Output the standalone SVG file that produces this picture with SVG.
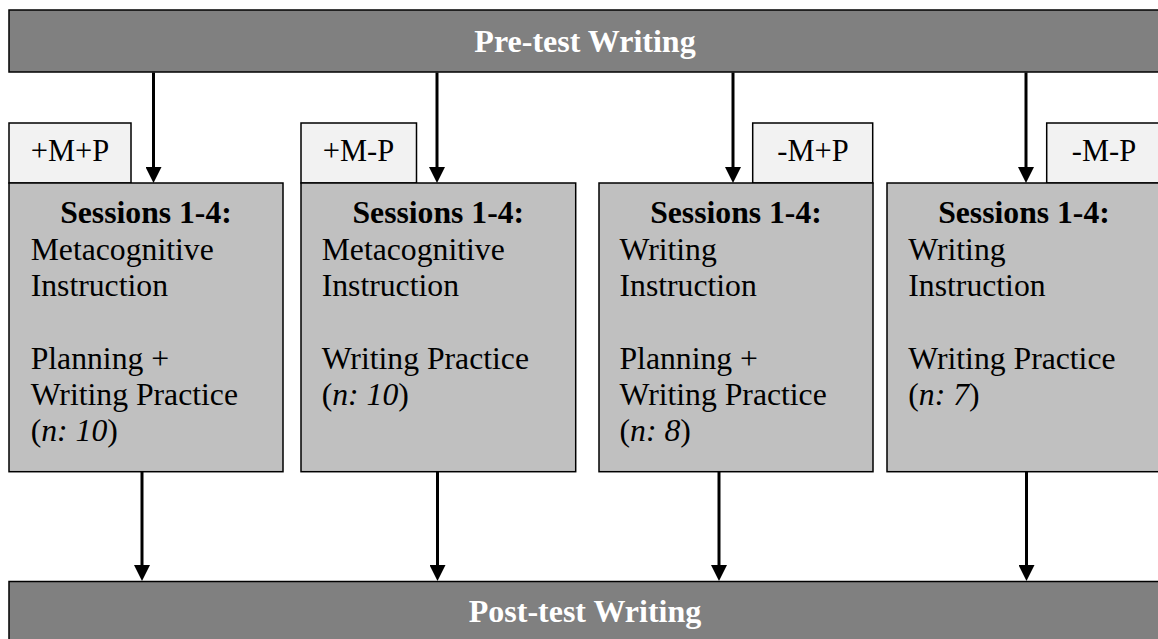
<svg xmlns="http://www.w3.org/2000/svg" width="1158" height="639" viewBox="0 0 1158 639">
<style>
.bar{fill:#808080;stroke:#000;stroke-width:1.5}
.box{fill:#c0c0c0;stroke:#000;stroke-width:1.5}
.lab{fill:#f2f2f2;stroke:#000;stroke-width:1.5}
text{font-family:"Liberation Serif","Times New Roman",serif;fill:#000}
.bt{font-size:32px;font-weight:bold;fill:#fff;text-anchor:middle}
.hd{font-size:31.7px;font-weight:bold;text-anchor:middle}
.tx{font-size:31.7px}
.lt{font-size:30.5px;text-anchor:middle}
.it{font-style:italic}
.conn line{stroke:#000;stroke-width:3;marker-end:url(#ah)}
</style>
<defs>
<marker id="ah" markerUnits="userSpaceOnUse" markerWidth="16" markerHeight="16" viewBox="0 0 16 16" refX="6" refY="8" orient="auto">
<path d="M0,0 L16,8 L0,16 Z" fill="#000"/>
</marker>
</defs>
<g id="pretest">
<rect class="bar" x="9" y="10" width="1152" height="62"/>
<text class="bt" x="585" y="52">Pre-test Writing</text>
</g>
<g id="posttest">
<rect class="bar" x="9" y="581.5" width="1152" height="70"/>
<text class="bt" x="585" y="622">Post-test Writing</text>
</g>
<g id="label1">
<rect class="lab" x="9" y="123" width="122" height="60"/>
<text class="lt" x="70" y="161">+M+P</text>
</g>
<g id="label2">
<rect class="lab" x="301" y="123" width="115.5" height="60"/>
<text class="lt" x="358.5" y="161">+M-P</text>
</g>
<g id="label3">
<rect class="lab" x="752.7" y="123" width="120" height="60"/>
<text class="lt" x="813" y="161">-M+P</text>
</g>
<g id="label4">
<rect class="lab" x="1046.7" y="123" width="114.3" height="60"/>
<text class="lt" x="1104" y="161">-M-P</text>
</g>
<g id="group1">
<rect class="box" x="9" y="183" width="274" height="288.7"/>
<text class="hd" x="146" y="223">Sessions 1-4:</text>
<text class="tx" x="30.7" y="259.5">Metacognitive</text>
<text class="tx" x="30.7" y="296">Instruction</text>
<text class="tx" x="30.7" y="369">Planning +</text>
<text class="tx" x="30.7" y="405">Writing Practice</text>
<text class="tx" x="30.7" y="441">(<tspan class="it">n: 10</tspan>)</text>
</g>
<g id="group2">
<rect class="box" x="301" y="183" width="274.7" height="288.7"/>
<text class="hd" x="438.3" y="223">Sessions 1-4:</text>
<text class="tx" x="321.7" y="259.5">Metacognitive</text>
<text class="tx" x="321.7" y="296">Instruction</text>
<text class="tx" x="321.7" y="369">Writing Practice</text>
<text class="tx" x="321.7" y="405">(<tspan class="it">n: 10</tspan>)</text>
</g>
<g id="group3">
<rect class="box" x="599" y="183" width="274" height="288.7"/>
<text class="hd" x="736" y="223">Sessions 1-4:</text>
<text class="tx" x="619.5" y="259.5">Writing</text>
<text class="tx" x="619.5" y="296">Instruction</text>
<text class="tx" x="619.5" y="369">Planning +</text>
<text class="tx" x="619.5" y="405">Writing Practice</text>
<text class="tx" x="619.5" y="441">(<tspan class="it">n: 8</tspan>)</text>
</g>
<g id="group4">
<rect class="box" x="887" y="183" width="274" height="288.7"/>
<text class="hd" x="1024" y="223">Sessions 1-4:</text>
<text class="tx" x="908.3" y="259.5">Writing</text>
<text class="tx" x="908.3" y="296">Instruction</text>
<text class="tx" x="908.3" y="369">Writing Practice</text>
<text class="tx" x="908.3" y="405">(<tspan class="it">n: 7</tspan>)</text>
</g>
<g id="connectors" class="conn">
<line x1="153.5" y1="72.5" x2="153.5" y2="173"/>
<line x1="437" y1="72.5" x2="437" y2="173"/>
<line x1="733" y1="72.5" x2="733" y2="173"/>
<line x1="1026" y1="72.5" x2="1026" y2="173"/>
<line x1="142" y1="472" x2="142" y2="571"/>
<line x1="437.5" y1="472" x2="437.5" y2="571"/>
<line x1="719" y1="472" x2="719" y2="571"/>
<line x1="1026.5" y1="472" x2="1026.5" y2="571"/>
</g>
</svg>
